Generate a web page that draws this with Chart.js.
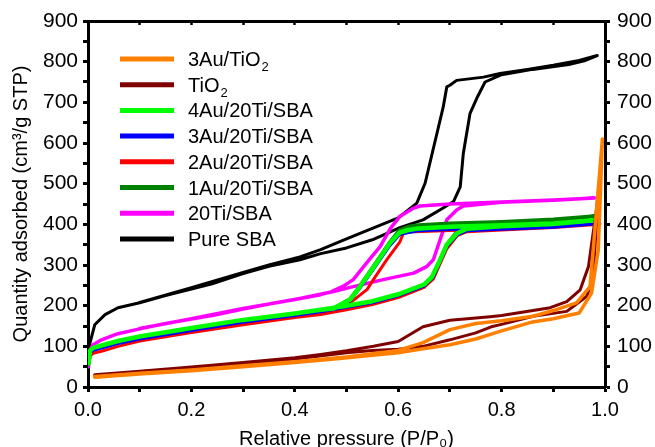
<!DOCTYPE html>
<html>
<head>
<meta charset="utf-8">
<script src="https://cdn.jsdelivr.net/npm/chart.js@4.4.1/dist/chart.umd.min.js"></script>
<style>
  body { margin: 0; background: #fff; }
</style>
</head>
<body>
<canvas id="canvas" width="655" height="447"></canvas>
<script>
// N2 isotherms: [P/P0, quantity] - adsorption branch, then desorption branch
var au3tio2Ads = [[0.013,24],[0.1,32],[0.2,40],[0.3,50],[0.4,60],[0.487,70],[0.55,78],[0.6,84],[0.648,94],[0.7,104],[0.75,118],[0.78,130],[0.8,138],[0.86,160],[0.9,168],[0.95,182],[0.974,231],[0.987,337],[0.995,610]];
var au3tio2Des = [[0.98,379],[0.971,247],[0.945,207],[0.9,188],[0.861,174],[0.8,163],[0.75,156],[0.7,141],[0.648,109],[0.6,90],[0.55,82],[0.5,74],[0.4,62],[0.3,52],[0.2,42],[0.1,34],[0.013,26]];

var tio2Ads = [[0.013,28],[0.1,37],[0.2,46],[0.3,57],[0.4,69],[0.5,84],[0.55,90],[0.6,93],[0.648,100],[0.7,116],[0.75,133],[0.78,148],[0.8,154],[0.861,174],[0.926,186],[0.965,223],[0.977,272],[0.985,430],[0.992,540]];
var tio2Des = [[0.982,420],[0.977,379],[0.968,296],[0.952,239],[0.926,210],[0.894,195],[0.8,176],[0.778,173],[0.7,164],[0.648,148],[0.6,112],[0.552,100],[0.5,89],[0.45,80],[0.4,72],[0.3,60],[0.2,49],[0.1,39],[0.013,30]];

var au4Ads = [[0.001,58],[0.004,90],[0.01,96],[0.026,102],[0.058,113],[0.1,124],[0.2,145],[0.3,165],[0.4,181],[0.45,190],[0.5,200],[0.55,211],[0.6,228],[0.65,252],[0.665,270],[0.68,310],[0.694,350],[0.714,378],[0.733,389],[0.8,395],[0.9,401],[0.98,410]];
var au4Des = [[0.9,402],[0.8,398],[0.7,394],[0.64,390],[0.62,386],[0.603,380],[0.584,354],[0.558,305],[0.54,272],[0.526,247],[0.507,215],[0.475,193],[0.45,190]];

var au3Ads = [[0.001,55],[0.004,84],[0.01,90],[0.026,96],[0.058,107],[0.1,118],[0.2,139],[0.3,159],[0.4,176],[0.45,185],[0.5,196],[0.55,207],[0.6,224],[0.65,248],[0.668,270],[0.68,305],[0.694,345],[0.714,374],[0.733,384],[0.8,388],[0.9,393],[0.99,402]];
var au3Des = [[0.9,394],[0.8,390],[0.7,387],[0.64,384],[0.62,380],[0.603,375],[0.584,348],[0.558,300],[0.54,268],[0.526,243],[0.507,212],[0.475,192],[0.45,186]];

var au2Ads = [[0.001,55],[0.004,76],[0.01,83],[0.026,88],[0.058,100],[0.1,113],[0.2,134],[0.3,153],[0.4,171],[0.45,178],[0.5,190],[0.55,203],[0.6,220],[0.65,245],[0.668,266],[0.68,300],[0.694,340],[0.714,372],[0.733,382],[0.8,386],[0.9,392],[0.99,400]];
var au2Des = [[0.9,392],[0.8,388],[0.7,385],[0.62,381],[0.61,378],[0.603,356],[0.578,313],[0.552,264],[0.54,240],[0.507,207],[0.487,197],[0.45,181]];

var au1Ads = [[0.001,56],[0.004,88],[0.01,94],[0.026,100],[0.058,111],[0.1,122],[0.2,143],[0.3,163],[0.4,179],[0.45,188],[0.5,198],[0.55,209],[0.6,226],[0.65,250],[0.665,268],[0.68,308],[0.694,350],[0.714,382],[0.733,396],[0.8,403],[0.9,410],[0.98,420]];
var au1Des = [[0.9,412],[0.8,406],[0.7,402],[0.64,398],[0.62,394],[0.603,386],[0.584,356],[0.558,307],[0.54,274],[0.526,248],[0.507,216],[0.475,193],[0.45,188]];

var ti20Ads = [[0.001,50],[0.003,88],[0.01,104],[0.026,116],[0.058,131],[0.1,143],[0.15,156],[0.2,167],[0.24,176],[0.3,192],[0.35,204],[0.41,218],[0.475,235],[0.507,245],[0.571,264],[0.63,280],[0.655,296],[0.668,313],[0.681,362],[0.694,411],[0.713,435],[0.726,445],[0.8,454],[0.9,459],[0.98,465]];
var ti20Des = [[0.9,460],[0.8,455],[0.7,450],[0.642,445],[0.63,440],[0.603,419],[0.585,390],[0.565,345],[0.539,305],[0.513,264],[0.494,248],[0.47,234],[0.45,227],[0.4,215],[0.3,193],[0.2,168],[0.1,144]];

var sbaAds = [[0.001,80],[0.004,109],[0.013,153],[0.033,178],[0.058,195],[0.1,207],[0.15,225],[0.2,241],[0.24,254],[0.3,279],[0.35,297],[0.41,313],[0.45,328],[0.5,342],[0.55,362],[0.603,392],[0.648,411],[0.687,440],[0.707,456],[0.72,492],[0.726,575],[0.739,673],[0.752,710],[0.768,750],[0.8,768],[0.86,781],[0.93,793],[0.96,802],[0.985,815]];
var sbaDes = [[0.95,803],[0.9,791],[0.85,781],[0.797,771],[0.765,762],[0.713,754],[0.7,742],[0.694,738],[0.687,688],[0.675,624],[0.658,533],[0.652,501],[0.636,452],[0.6,416],[0.55,390],[0.5,364],[0.45,338],[0.41,320],[0.35,300],[0.3,282],[0.2,244],[0.1,208]];

var labels = ['3Au/TiO₂', 'TiO₂', '4Au/20Ti/SBA', '3Au/20Ti/SBA', '2Au/20Ti/SBA', '1Au/20Ti/SBA', '20Ti/SBA', 'Pure SBA'];
var colors = ['#FF8000', '#800000', '#00FF00', '#0000FF', '#FF0000', '#008000', '#FF00FF', '#000000'];
var widths = [3.5, 3, 4.5, 3, 3, 4, 3.5, 3];
var xTickLabels = ['0.0', '0.2', '0.4', '0.6', '0.8', '1.0'];
var yTickLabels = ['0', '100', '200', '300', '400', '500', '600', '700', '800', '900'];

var series = [
  [au3tio2Ads, au3tio2Des],
  [tio2Ads, tio2Des],
  [au4Ads, au4Des],
  [au3Ads, au3Des],
  [au2Ads, au2Des],
  [au1Ads, au1Des],
  [ti20Ads, ti20Des],
  [sbaAds, sbaDes]
];

function toPoints(pair) {
  return pair[0].concat(pair[1]).map(function(p) { return {x: p[0], y: p[1]}; });
}

var datasets = series.map(function(s, i) {
  return {
    label: labels[i],
    data: toPoints(s),
    showLine: true,
    borderColor: colors[i],
    backgroundColor: colors[i],
    borderWidth: widths[i],
    pointRadius: 0,
    tension: 0,
    borderJoinStyle: 'round',
    borderCapStyle: 'round'
  };
});

var FONT = 'Liberation Sans, Arial, Helvetica, sans-serif';

function xLabel(v) {
  var k = Math.round(v * 10);
  return k % 2 === 0 ? xTickLabels[k / 2] : '';
}
function yLabel(v) {
  return v % 100 === 0 ? yTickLabels[v / 100] : '';
}

// legend drawn inside the plot, with real subscripts
var insideLegend = {
  id: 'insideLegend',
  afterDraw: function(chart) {
    var ctx = chart.ctx, a = chart.chartArea;
    var x0 = a.left + 32, y0 = a.top + 38;
    ctx.save();
    chart.data.datasets.forEach(function(ds, i) {
      var y = y0 + i * 25.7;
      ctx.strokeStyle = ds.borderColor;
      ctx.lineWidth = 5;
      ctx.lineCap = 'butt';
      ctx.beginPath();
      ctx.moveTo(x0, y);
      ctx.lineTo(x0 + 54, y);
      ctx.stroke();
      ctx.fillStyle = '#000';
      ctx.textBaseline = 'alphabetic';
      var tx = x0 + 68;
      var parts = ds.label.split('₂');
      ctx.font = '20px ' + FONT;
      ctx.fillText(parts[0], tx, y + 7);
      if (parts.length > 1) {
        tx += ctx.measureText(parts[0]).width;
        ctx.font = '13px ' + FONT;
        ctx.fillText('2', tx + 1, y + 12);
      }
    });
    ctx.restore();
  }
};

var tickGrid = {
  drawOnChartArea: false,
  drawTicks: true,
  tickLength: 5,
  tickColor: '#000',
  tickWidth: 3
};

new Chart(document.getElementById('canvas'), {
  type: 'scatter',
  data: { datasets: datasets },
  options: {
    responsive: false,
    animation: false,
    devicePixelRatio: 1,
    layout: { padding: 0 },
    plugins: { legend: { display: false }, tooltip: { enabled: false } },
    scales: {
      x: {
        type: 'linear', position: 'bottom', min: 0, max: 1,
        border: { display: true, width: 3, color: '#000' },
        grid: tickGrid,
        ticks: { stepSize: 0.1, autoSkip: false, maxRotation: 0, padding: 6, color: '#000',
                 font: { family: FONT, size: 20 }, callback: xLabel },
        title: { display: true, text: 'Relative pressure (P/P₀)', color: '#000',
                 font: { family: FONT, size: 20, lineHeight: 0.8 }, padding: { top: 0, bottom: 0 } },
        afterFit: function(s) { s.height = 60; }
      },
      xTop: {
        type: 'linear', position: 'top', min: 0, max: 1,
        border: { display: true, width: 3, color: '#000' },
        grid: { drawOnChartArea: false, drawTicks: true, tickLength: -4, tickColor: '#000', tickWidth: 2.5 },
        ticks: { stepSize: 0.1, autoSkip: false, display: false },
        afterFit: function(s) { s.height = 21; }
      },
      y: {
        type: 'linear', position: 'left', min: 0, max: 900,
        border: { display: true, width: 3, color: '#000' },
        grid: tickGrid,
        ticks: { stepSize: 50, autoSkip: false, padding: 5, color: '#000',
                 font: { family: FONT, size: 21 }, callback: yLabel },
        title: { display: true, text: 'Quantity adsorbed (cm³/g STP)', color: '#000',
                 font: { family: FONT, size: 20, lineHeight: 1.2 }, padding: { top: 9, bottom: 0 } },
        afterFit: function(s) { s.width = 88; }
      },
      yRight: {
        type: 'linear', position: 'right', min: 0, max: 900,
        border: { display: true, width: 3, color: '#000' },
        grid: tickGrid,
        ticks: { stepSize: 50, autoSkip: false, padding: 7, color: '#000',
                 font: { family: FONT, size: 21 }, callback: yLabel },
        afterFit: function(s) { s.width = 50; }
      }
    }
  },
  plugins: [insideLegend]
});
</script>
</body>
</html>
